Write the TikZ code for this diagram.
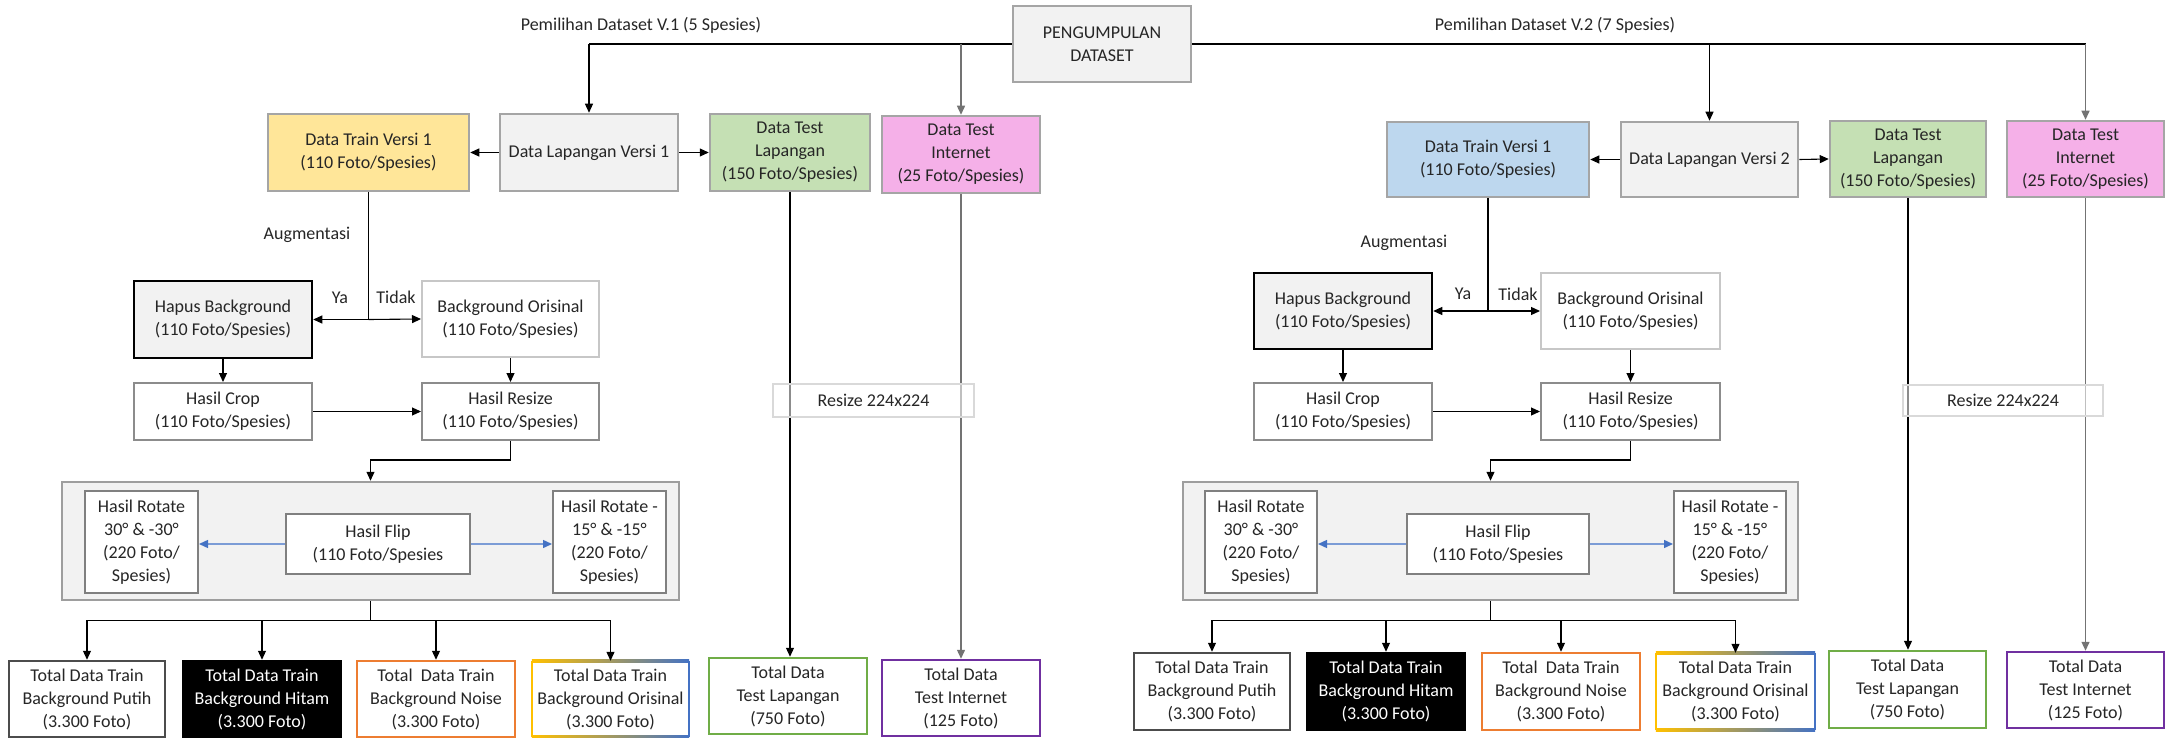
\documentclass[tikz,border=0pt]{standalone}
\usepackage{fontspec}
\setmainfont{Carlito}
\usetikzlibrary{arrows.meta}

\definecolor{txt}{HTML}{262626}
\definecolor{bord}{HTML}{A5A5A5}
\definecolor{panel}{HTML}{F2F2F2}
\definecolor{yel}{HTML}{FFE699}
\definecolor{blu}{HTML}{BDD7EE}
\definecolor{grn}{HTML}{C5E0B4}
\definecolor{pnk}{HTML}{F5B0E8}
\definecolor{orng}{HTML}{ED7D31}
\definecolor{grn2}{HTML}{70AD47}
\definecolor{purp}{HTML}{7030A0}
\definecolor{blueA}{HTML}{4472C4}
\definecolor{goldA}{HTML}{FFC000}

\tikzset{
  box/.style={rectangle, align=center, inner sep=0pt, text=txt},
  gbox/.style={box, draw=bord, line width=2.5pt},
  hapusbox/.style={box, draw=black, line width=2.5pt, fill=panel},
  lightbox/.style={box, draw=black!22, line width=2pt, fill=white},
  wbox/.style={box, draw=black!45, line width=2pt, fill=white},
  inbox/.style={box, draw=black!50, line width=2pt, fill=white},
  panelbox/.style={box, draw=black!38, line width=2.5pt, fill=panel},
  totbox/.style={box, line width=2.5pt, fill=white},
  resizebox/.style={box, draw=black!15, line width=1.5pt, fill=white, fill opacity=0.55, text opacity=1},
  lbl/.style={text=txt, inner sep=0pt},
  arr/.style={draw=black, line width=1.1pt, -{Triangle[length=9pt,width=8pt]}},
  garr/.style={draw=black!55, line width=1.4pt, -{Triangle[length=9pt,width=8pt]}},
  line/.style={draw=black, line width=1.1pt},
  barr/.style={draw=blueA!70, line width=1.4pt, -{Triangle[length=9pt,width=8pt,color=blueA]}},
}

\begin{document}
\begin{tikzpicture}[x=1pt, y=-1pt, font=\fontsize{18}{23}\selectfont]
\useasboundingbox (0,0) rectangle (2165,738);

% ---------- source node ----------
\node[gbox, fill=panel, minimum width=178, minimum height=76] (peng) at (1102,44) {PENGUMPULAN\\DATASET};
\node[lbl] (selL) at (641,25) {Pemilihan Dataset V.1 (5 Spesies)};
\node[lbl] (selR) at (1555,25) {Pemilihan Dataset V.2 (7 Spesies)};

% ================= version 1 (left) =================
\node[gbox, fill=yel, minimum width=201, minimum height=77] (trainL) at (368.5,152.5) {Data Train Versi 1\\(110 Foto/Spesies)};
\node[gbox, fill=panel, minimum width=178, minimum height=77] (lapL) at (589,152.5) {Data Lapangan Versi 1};
\node[gbox, fill=grn, minimum width=160, minimum height=77] (tlapL) at (790,152.5) {Data Test\\Lapangan\\(150 Foto/Spesies)};
\node[gbox, fill=pnk, minimum width=158, minimum height=77] (tintL) at (961,154.5) {Data Test\\Internet\\(25 Foto/Spesies)};

\node[hapusbox, minimum width=178, minimum height=77] (hapusL) at (223,319.5) {Hapus Background\\(110 Foto/Spesies)};
\node[lightbox, minimum width=177, minimum height=76] (bgoriL) at (510.5,319) {Background Orisinal\\(110 Foto/Spesies)};
\node[wbox, minimum width=178, minimum height=57] (cropL) at (223,411.5) {Hasil Crop\\(110 Foto/Spesies)};
\node[wbox, minimum width=177, minimum height=57] (resizeL) at (510.5,411.5) {Hasil Resize\\(110 Foto/Spesies)};

\node[lbl] (augL) at (307,235) {Augmentasi};
\node[lbl] (yaL) at (340,298) {Ya};
\node[lbl] (tidakL) at (396,297) {Tidak};

\node[panelbox, minimum width=617, minimum height=118] (contL) at (370.5,541) {};
\node[inbox, minimum width=113, minimum height=102] (rotaL) at (141.5,542) {Hasil Rotate\\30° \& -30°\\(220 Foto/\\Spesies)};
\node[inbox, minimum width=184, minimum height=60] (flipL) at (378,544) {Hasil Flip\\(110 Foto/Spesies};
\node[inbox, minimum width=113, minimum height=102] (rotbL) at (609.5,542) {Hasil Rotate -\\15° \& -15°\\(220 Foto/\\Spesies)};

\node[totbox, draw=black!70, minimum width=156, minimum height=76] (putihL) at (87,699) {Total Data Train\\Background Putih\\(3.300 Foto)};
\node[totbox, draw=black, fill=black, text=white, minimum width=158, minimum height=76] (hitamL) at (262,699) {Total Data Train\\Background Hitam\\(3.300 Foto)};
\node[totbox, draw=orng, minimum width=158, minimum height=76] (noiseL) at (436,699) {Total\ \ Data Train\\Background Noise\\(3.300 Foto)};
\node[box, fill=white, minimum width=157, minimum height=76] (oriL) at (610.5,699) {Total Data Train\\Background Orisinal\\(3.300 Foto)};
\node[totbox, draw=grn2, minimum width=158, minimum height=76] (totlapL) at (788,696) {Total Data\\Test Lapangan\\(750 Foto)};
\node[totbox, draw=purp, minimum width=158, minimum height=76] (totintL) at (961,698) {Total Data\\Test Internet\\(125 Foto)};

% ================= version 2 (right) =================
\node[gbox, fill=blu, minimum width=202, minimum height=75] (trainR) at (1488,159.5) {Data Train Versi 1\\(110 Foto/Spesies)};
\node[gbox, fill=panel, minimum width=177, minimum height=75] (lapR) at (1709.5,159.5) {Data Lapangan Versi 2};
\node[gbox, fill=grn, minimum width=156, minimum height=76] (tlapR) at (1908,159) {Data Test\\Lapangan\\(150 Foto/Spesies)};
\node[gbox, fill=pnk, minimum width=157, minimum height=76] (tintR) at (2085.5,159) {Data Test\\Internet\\(25 Foto/Spesies)};

\node[hapusbox, minimum width=178, minimum height=76] (hapusR) at (1343,311) {Hapus Background\\(110 Foto/Spesies)};
\node[lightbox, minimum width=179, minimum height=76] (bgoriR) at (1630.5,311) {Background Orisinal\\(110 Foto/Spesies)};
\node[wbox, minimum width=178, minimum height=57] (cropR) at (1343,411.5) {Hasil Crop\\(110 Foto/Spesies)};
\node[wbox, minimum width=179, minimum height=57] (resizeR) at (1630.5,411.5) {Hasil Resize\\(110 Foto/Spesies)};

\node[lbl] (augR) at (1404,243) {Augmentasi};
\node[lbl] (yaR) at (1463,294) {Ya};
\node[lbl] (tidakR) at (1518,294) {Tidak};

\node[panelbox, minimum width=615, minimum height=118] (contR) at (1490.5,541) {};
\node[inbox, minimum width=112, minimum height=102] (rotaR) at (1261,542) {Hasil Rotate\\30° \& -30°\\(220 Foto/\\Spesies)};
\node[inbox, minimum width=182, minimum height=60] (flipR) at (1498,544) {Hasil Flip\\(110 Foto/Spesies};
\node[inbox, minimum width=112, minimum height=102] (rotbR) at (1730,542) {Hasil Rotate -\\15° \& -15°\\(220 Foto/\\Spesies)};

\node[totbox, draw=black!70, minimum width=156, minimum height=77] (putihR) at (1212,691.5) {Total Data Train\\Background Putih\\(3.300 Foto)};
\node[totbox, draw=black, fill=black, text=white, minimum width=158, minimum height=77] (hitamR) at (1386,691.5) {Total Data Train\\Background Hitam\\(3.300 Foto)};
\node[totbox, draw=orng, minimum width=158, minimum height=77] (noiseR) at (1561,691.5) {Total\ \ Data Train\\Background Noise\\(3.300 Foto)};
\node[box, fill=white, minimum width=159, minimum height=77] (oriR) at (1735.5,691.5) {Total Data Train\\Background Orisinal\\(3.300 Foto)};
\node[totbox, draw=grn2, minimum width=157, minimum height=77] (totlapR) at (1907.5,689.5) {Total Data\\Test Lapangan\\(750 Foto)};
\node[totbox, draw=purp, minimum width=157, minimum height=76] (totintR) at (2085.5,690) {Total Data\\Test Internet\\(125 Foto)};

% ---------- gradient frames of the "Orisinal" totals ----------
\foreach \n in {oriL,oriR}{
  \shade[left color=goldA, middle color=purp!35!orng!70, right color=blueA]
    ([yshift=1.25pt]\n.north west) rectangle ([yshift=-1.25pt]\n.north east);
  \shade[left color=goldA, middle color=purp!35!orng!70, right color=blueA]
    ([yshift=1.25pt]\n.south west) rectangle ([yshift=-1.25pt]\n.south east);
  \draw[goldA, line width=2.5pt] (\n.north west) -- (\n.south west);
  \draw[blueA, line width=2.5pt] (\n.north east) -- (\n.south east);
}

% ---------- connectors: dataset selection ----------
\draw[line] (peng.west) -- (peng.west -| lapL.north);
\draw[arr] (peng.west -| lapL.north) -- (lapL.north);
\draw[garr] (peng.west -| tintL.north) -- (tintL.north);
\draw[line] (peng.east) -- (peng.east -| tintR.north);
\draw[garr] (peng.east -| tintR.north) -- (tintR.north);
\draw[arr] (peng.east -| lapR.north) -- (lapR.north);

\draw[arr] (lapL.west) -- (trainL.east);
\draw[arr] (lapL.east) -- (tlapL.west);
\draw[arr] (lapR.west) -- (trainR.east);
\draw[arr] (lapR.east) -- (tlapR.west);

% ---------- connectors: augmentation, left ----------
\draw[line] (trainL.south) -- (trainL.south |- hapusL.east) coordinate (splitL);
\draw[arr] (splitL) -- (hapusL.east);
\draw[arr] (splitL) -- (bgoriL.west);
\draw[arr] (hapusL.south) -- (cropL.north);
\draw[arr] (bgoriL.south) -- (resizeL.north);
\draw[arr] (cropL.east) -- (resizeL.west);
\draw[arr] (resizeL.south) -- ++(0,19) -| (contL.north);
\draw[barr] (flipL.west) -- (flipL.west -| rotaL.east);
\draw[barr] (flipL.east) -- (flipL.east -| rotbL.west);
\draw[line] (contL.south) -- ++(0,19) coordinate (busL);
\foreach \t in {putihL,hitamL,noiseL,oriL}{ \draw[arr] (busL) -| (\t.north); }

% ---------- connectors: augmentation, right ----------
\draw[line] (trainR.south) -- (trainR.south |- hapusR.east) coordinate (splitR);
\draw[arr] (splitR) -- (hapusR.east);
\draw[arr] (splitR) -- (bgoriR.west);
\draw[arr] (hapusR.south) -- (cropR.north);
\draw[arr] (bgoriR.south) -- (resizeR.north);
\draw[arr] (cropR.east) -- (resizeR.west);
\draw[arr] (resizeR.south) -- ++(0,19) -| (contR.north);
\draw[barr] (flipR.west) -- (flipR.west -| rotaR.east);
\draw[barr] (flipR.east) -- (flipR.east -| rotbR.west);
\draw[line] (contR.south) -- ++(0,19) coordinate (busR);
\foreach \t in {putihR,hitamR,noiseR,oriR}{ \draw[arr] (busR) -| (\t.north); }

% ---------- connectors: test data ----------
\draw[arr] (tlapL.south) -- (tlapL.south |- totlapL.north);
\draw[garr] (tintL.south) -- (tintL.south |- totintL.north);
\draw[arr] (tlapR.south) -- (tlapR.south |- totlapR.north);
\draw[garr] (tintR.south) -- (tintR.south |- totintR.north);

% ---------- resize notes over the test lines ----------
\node[resizebox, minimum width=201, minimum height=33] (rsL) at (873.5,400.5) {Resize 224x224};
\node[resizebox, minimum width=200, minimum height=31] (rsR) at (2003,400.5) {Resize 224x224};

\end{tikzpicture}
\end{document}
